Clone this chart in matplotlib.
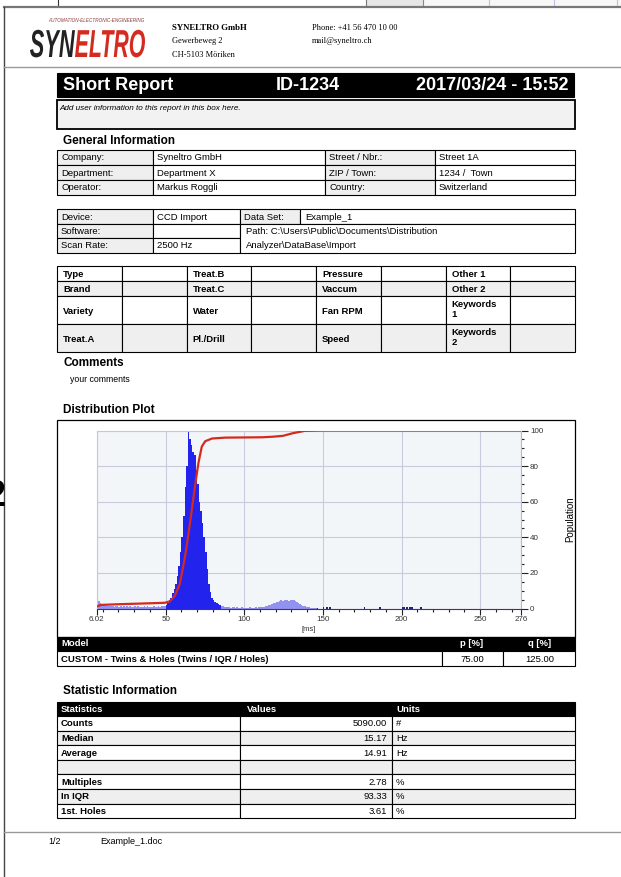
import matplotlib
matplotlib.use("Agg")
import matplotlib.pyplot as plt
from matplotlib.patches import Rectangle, PathPatch
from matplotlib.textpath import TextPath
from matplotlib.font_manager import FontProperties
from matplotlib.transforms import Affine2D
from matplotlib.ticker import FixedLocator, MultipleLocator

plt.rcParams['font.family'] = ['Liberation Sans', 'DejaVu Sans']

# ---- report content ----
general_rows = [
    ("Company:", "Syneltro GmbH", "Street / Nbr.:", "Street 1A"),
    ("Department:", "Department X", "ZIP / Town:", "1234 /  Town"),
    ("Operator:", "Markus Roggli", "Country:", "Switzerland"),
]
device_labels = ["Device:", "Software:", "Scan Rate:"]
device_values = ["CCD Import", "", "2500 Hz"]
dataset_label = "Data Set:"
dataset_value = "Example_1"
path_lines = ["Path: C:\\Users\\Public\\Documents\\Distribution",
              "Analyzer\\DataBase\\Import"]
param_labels = [
    ["Type", "Treat.B", "Pressure", "Other 1"],
    ["Brand", "Treat.C", "Vaccum", "Other 2"],
    ["Variety", "Water", "Fan RPM", "Keywords\n1"],
    ["Treat.A", "Pl./Drill", "Speed", "Keywords\n2"],
]
model_name = "CUSTOM - Twins & Holes (Twins / IQR / Holes)"
model_p = "75.00"
model_q = "125.00"
stat_names = ["Counts", "Median", "Average", "", "Multiples", "In IQR", "1st. Holes"]
stat_values = ["5090.00", "15.17", "14.91", "", "2.78", "93.33", "3.61"]
stat_units = ["#", "Hz", "Hz", "", "%", "%", "%"]

# ---- distribution data: 1 ms bins starting at 6 ms (percent of peak) ----
bin_start = 6
hist_pct = [
    11, 4, 3, 2.5, 2, 1.8, 1.5, 1.2, 1.6, 1.3,          # 6-15
    1.4, 1.1, 1.5, 1.2, 1.0, 1.3, 1.1, 1.4, 0.9, 1.2,   # 16-25
    1.0, 1.3, 1.1, 0.8, 1.2, 1.0, 1.4, 0.9, 1.1, 1.0,   # 26-35
    1.2, 0.9, 1.3, 1.0, 0.8, 1.1, 1.2, 0.9, 1.0, 1.3,   # 36-45
    1.1, 1.5, 1.2, 1.6, 2.0, 3.0, 4.5, 6.0, 8.5, 11,    # 46-55
    14, 18, 24, 32, 40, 52, 68, 80, 100, 95,            # 56-65
    92, 88, 86, 78, 70, 60, 55, 48, 40, 32,             # 66-75
    22, 14, 9, 6, 4.5, 3.5, 3.0, 2.5, 2.0, 1.6,         # 76-85
    1.3, 1.0, 0.9, 0.7, 0.8, 0.5, 0.6, 0.7, 0.4, 0.6,   # 86-95
    0.5, 0.3, 0.6, 0.4, 0.5, 0.3, 0.5, 0.6, 0.4, 0.5,   # 96-105
    0.4, 0.6, 0.5, 0.7, 0.6, 0.8, 1.0, 1.2, 1.5, 1.8,   # 106-115
    2.2, 2.6, 3.0, 3.2, 3.5, 3.8, 4.0, 4.5, 4.2, 4.8,   # 116-125
    4.6, 5.0, 4.4, 4.7, 4.9, 4.5, 4.0, 3.6, 3.2, 2.5,   # 126-135
    2.0, 1.6, 1.2, 1.0, 0.8, 0.6, 0.5, 0.4, 0.3, 0.3,   # 136-145
    0.2, 0, 0, 0, 0.8, 0, 0.8, 0, 0.8, 0,               # 146-155
    0, 0, 0, 0, 0, 0, 0, 0, 0, 0,                       # 156-165
    0, 0, 0, 0, 0, 0, 0, 0, 0, 0,                       # 166-175
    0.8, 0, 0, 0, 0, 0, 0, 0, 0, 0,                     # 176-185
    0.8, 0, 0, 0, 0, 0, 0, 0, 0, 0,                     # 186-195
    0, 0, 0, 0, 0.8, 0.8, 0, 0.8, 0, 0.8,               # 196-205
    0.8, 0, 0, 0, 0, 0, 0.8, 0, 0, 0,                   # 206-215
    0, 0, 0, 0, 0, 0, 0, 0, 0, 0,                       # 216-225
    0, 0, 0, 0, 0, 0, 0, 0, 0, 0,                       # 226-235
    0, 0, 0, 0, 0, 0, 0, 0, 0, 0,                       # 236-245
    0, 0, 0, 0, 0, 0, 0, 0, 0, 0,                       # 246-255
    0, 0, 0, 0, 0, 0, 0, 0, 0, 0,                       # 256-265
    0, 0, 0, 0, 0, 0, 0, 0, 0, 0,                       # 266-275
]
cum_ms = [6.02, 8.6, 20, 35, 49.4, 52.6, 55.8, 59, 62.3, 65.5, 68.7, 70.9, 73,
          75.2, 79.5, 88, 100, 111.7, 118, 124.6, 131, 138.5, 150, 200, 276]
cum_pct = [1, 2, 2.4, 2.8, 3.2, 4, 7, 13.7, 29, 48, 69, 82, 91,
           94, 95.5, 96, 96.1, 96.2, 96.5, 97, 98.5, 99.8, 100, 100, 100]
x_major = [6.02, 50, 100, 150, 200, 250, 276]

W, H = 621, 877
fig = plt.figure(figsize=(W / 100, H / 100), dpi=100)
pg = fig.add_axes([0, 0, 1, 1])
pg.set_xlim(0, W)
pg.set_ylim(H, 0)
pg.axis('off')

GRAY = '#efefef'


def box(x0, y0, x1, y1, fc='white', ec='black', lw=0.8, z=1):
    pg.add_patch(Rectangle((x0, y0), x1 - x0, y1 - y0, fc=fc, ec=ec, lw=lw, zorder=z))


def txt(x, y, s, size=7, **kw):
    kw.setdefault('va', 'center')
    pg.text(x, y, s, fontsize=size, **kw)


# window strip and page edges
box(366, 0, 423, 6, fc='#e6e6e6', ec='none', lw=0)
box(423, 0, 621, 6, fc='#f7f7f7', ec='none', lw=0)
for xv, c in [(58, '#333333'), (366, '#777777'), (423, '#888888'),
              (489, '#c0c0e8'), (554, '#c0c0e8'), (617, '#c0c0e8')]:
    pg.plot([xv, xv], [0, 6], color=c, lw=0.8)
pg.plot([4, W], [6.5, 6.5], color='#777777', lw=1.6)
pg.plot([4, 4], [6.5, H], color='#444444', lw=1.0)
pg.plot([4, W], [67, 67], color='#999999', lw=1.0)
pg.plot([4, W], [832, 832], color='#999999', lw=1.0)
# edge of the neighbouring page number, mostly outside the frame
txt(-14, 496, "2", size=26, fontweight='bold')

# logo
logo_font = FontProperties(family=['Liberation Sans Narrow', 'Liberation Sans'],
                           weight='bold', style='italic')
for word, x0, x1, col in [("SYN", 30, 75, '#222222'), ("ELTRO", 75, 145, '#d42a20')]:
    tp = TextPath((0, 0), word, size=1, prop=logo_font)
    ext = tp.get_extents()
    sx = (x1 - x0) / ext.width
    tr = Affine2D().translate(-ext.x0, 0).scale(sx, -39).translate(x0, 57) + pg.transData
    pg.add_patch(PathPatch(tp, fc=col, ec='none', transform=tr))
txt(48, 21, "AUTOMATION-ELECTRONIC-ENGINEERING", size=3.3, style='italic',
    color='#8a3a3a')

serif = ['Liberation Serif', 'DejaVu Serif']
txt(172, 28, "SYNELTRO GmbH", size=6.3, family=serif, fontweight='bold')
txt(172, 41, "Gewerbeweg 2", size=6, family=serif)
txt(172, 55, "CH-5103 Möriken", size=6, family=serif)
txt(312, 28, "Phone: +41 56 470 10 00", size=6, family=serif)
txt(312, 41, "mail@syneltro.ch", size=6, family=serif)

# title bar and user box
box(57, 73, 574, 97, fc='black')
txt(63, 85.5, "Short Report", size=13, color='white', fontweight='bold')
txt(276, 85.5, "ID-1234", size=13, color='white', fontweight='bold')
txt(569, 85.5, "2017/03/24 - 15:52", size=13, color='white', fontweight='bold', ha='right')
box(57, 100, 575, 129, fc='#f2f2f2', lw=1.3)
txt(59, 108, "Add user information to this report in this box here.", size=5.9, style='italic')

# general information
txt(63, 141, "General Information", size=8.5, fontweight='bold')
gcols = [57, 153, 325, 435, 575]
for r, row in enumerate(general_rows):
    y0 = 150 + r * 15
    for c in range(4):
        box(gcols[c], y0, gcols[c + 1], y0 + 15, fc=GRAY if c % 2 == 0 else 'white')
        txt(gcols[c] + 4, y0 + 8, row[c], size=6.8)

dcols = [57, 153, 240, 300, 575]
drows = [209, 224, 238, 253]
for r in range(3):
    box(dcols[0], drows[r], dcols[1], drows[r + 1], fc=GRAY)
    txt(dcols[0] + 4, drows[r] + 8, device_labels[r], size=6.8)
    box(dcols[1], drows[r], dcols[2], drows[r + 1])
    txt(dcols[1] + 4, drows[r] + 8, device_values[r], size=6.8)
box(dcols[2], drows[0], dcols[3], drows[1], fc=GRAY)
txt(dcols[2] + 4, drows[0] + 8, dataset_label, size=6.8)
box(dcols[3], drows[0], dcols[4], drows[1])
txt(dcols[3] + 5, drows[0] + 8, dataset_value, size=6.8)
box(dcols[2], drows[1], dcols[4], drows[3])
txt(dcols[2] + 6, drows[1] + 8, path_lines[0], size=6.8)
txt(dcols[2] + 6, drows[2] + 7, path_lines[1], size=6.8)

pcol_w = (575 - 57) / 8
prows = [266, 281, 296, 324, 352]
for r, labels in enumerate(param_labels):
    fc = GRAY if r % 2 else 'white'
    for c in range(8):
        x0 = 57 + c * pcol_w
        box(x0, prows[r], x0 + pcol_w, prows[r + 1], fc=fc)
        if c % 2 == 0:
            lab = labels[c // 2]
            if "\n" in lab:
                txt(x0 + 6, prows[r] + 4, lab, size=6.8, fontweight='bold', va='top',
                    linespacing=1.1)
            else:
                txt(x0 + 6, (prows[r] + prows[r + 1]) / 2 + 1, lab, size=6.8,
                    fontweight='bold')

txt(63, 363, "Comments", size=8.5, fontweight='bold')
txt(70, 379, "your comments", size=6.3)

# distribution plot
txt(63, 410, "Distribution Plot", size=8.5, fontweight='bold')
box(57, 420, 575, 637, lw=0.9)
ax = fig.add_axes([96.5 / W, 1 - 608.5 / H, (521 - 96.5) / W, (608.5 - 430.5) / H])
ax.set_facecolor('#f3f6f9')
bin_ms = [bin_start + i for i in range(len(hist_pct))]
bar_cols = []
for m in bin_ms:
    if 50 <= m < 85:
        bar_cols.append('#2323ee')
    elif m >= 146:
        bar_cols.append('#23237a')
    else:
        bar_cols.append('#9292f0')
ax.bar(bin_ms, hist_pct, width=1.0, align='edge', color=bar_cols, linewidth=0, zorder=2)
ax.plot(cum_ms, cum_pct, color='#d42a1e', lw=1.6, zorder=3)
ax.set_xlim(6.02, 276)
ax.set_ylim(0, 100)
ax.xaxis.set_major_locator(FixedLocator(x_major))
ax.set_xticklabels(["6.02", "50", "100", "150", "200", "250", "276"])
ax.xaxis.set_minor_locator(FixedLocator([v for v in range(10, 276, 10) if v % 50]))
ax.yaxis.tick_right()
ax.yaxis.set_label_position('right')
ax.yaxis.set_major_locator(MultipleLocator(20))
ax.yaxis.set_minor_locator(MultipleLocator(5))
ax.grid(True, which='major', color='#c9cade', lw=0.8, zorder=1)
ax.tick_params(which='major', length=4, width=0.8, labelsize=5.8, color='#222222',
               labelcolor='#333333', pad=1.5)
ax.tick_params(which='minor', length=2, width=0.8, color='#222222')
ax.tick_params(axis='y', which='major', length=5)
for s in ['left', 'top']:
    ax.spines[s].set_color('#c8c8c8')
ax.spines['bottom'].set_color('#3a3a6a')
ax.spines['right'].set_color('#b8b8c8')
ax.set_ylabel("Population", fontsize=7, labelpad=16)
ax.set_xlabel("[ms]", fontsize=5.5, labelpad=2, color='#333333')

# model table
box(57, 637, 575, 651, fc='black')
txt(61, 644, "Model", size=6.8, fontweight='bold', color='white')
txt(472, 644, "p [%]", size=6.8, fontweight='bold', color='white', ha='center')
txt(540, 644, "q [%]", size=6.8, fontweight='bold', color='white', ha='center')
box(57, 651, 442, 666)
box(442, 651, 503, 666)
box(503, 651, 575, 666)
txt(61, 659, model_name, size=6.8, fontweight='bold')
txt(472, 659, model_p, size=6.8, ha='center')
txt(540, 659, model_q, size=6.8, ha='center')

# statistics table
txt(63, 691, "Statistic Information", size=8.5, fontweight='bold')
box(57, 702, 575, 716, fc='black')
txt(61, 709, "Statistics", size=6.8, fontweight='bold', color='white')
txt(247, 709, "Values", size=6.8, fontweight='bold', color='white')
txt(396, 709, "Units", size=6.8, fontweight='bold', color='white')
scols = [57, 240, 392, 575]
for r in range(len(stat_names)):
    y0 = 716 + r * 14.6
    fc = GRAY if r % 2 else 'white'
    for c in range(3):
        box(scols[c], y0, scols[c + 1], y0 + 14.6, fc=fc)
    txt(61, y0 + 7.8, stat_names[r], size=6.8, fontweight='bold')
    txt(387, y0 + 7.8, stat_values[r], size=6.8, ha='right')
    txt(396, y0 + 7.8, stat_units[r], size=6.8)

# footer
txt(48, 841, "1/2", size=6.5)
txt(100, 841, "Example_1.doc", size=6.5)

fig.savefig("out.png", dpi=100)
